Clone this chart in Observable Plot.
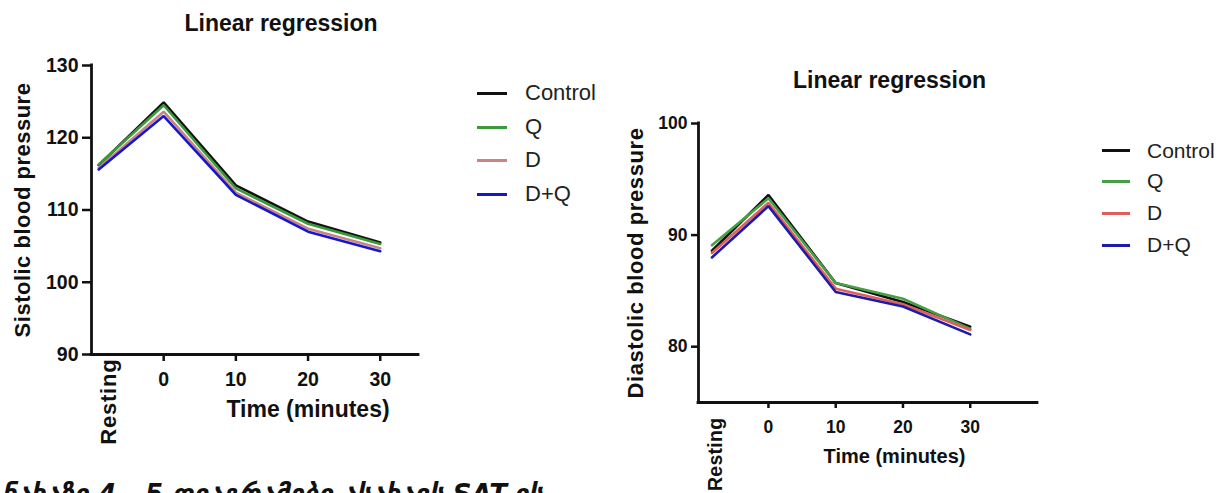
<!DOCTYPE html>
<html><head><meta charset="utf-8">
<script src="https://cdn.jsdelivr.net/npm/d3@7"></script>
<script src="https://cdn.jsdelivr.net/npm/@observablehq/plot@0.6"></script>
<style>
html,body{margin:0;padding:0;background:#fff;overflow:hidden;}
#root{position:relative;width:1220px;height:493px;overflow:hidden;font-family:"Liberation Sans",Arial,sans-serif;background:#fff;}
.plotbox{position:absolute;top:0;}
.title{position:absolute;font-weight:bold;font-size:23px;line-height:23px;white-space:nowrap;transform:translateX(-50%);color:#111;}
.leg{position:absolute;display:flex;align-items:center;white-space:nowrap;color:#222;}
.leg .sw{display:inline-block;height:3px;}
.caption{position:absolute;left:2px;font-family:"DejaVu Sans",sans-serif;font-weight:bold;font-style:italic;font-size:26px;line-height:26px;white-space:nowrap;color:#111;}
</style></head><body><div id="root"></div>
<script>
// ---- data ----
const groups = ["Control", "Q", "D", "D+Q"];
const timeLabels = ["Resting", "0", "10", "20", "30"];
const xTicks = [0, 10, 20, 30];
const sysTime = [-9, 0, 10, 20, 30];
const diaTime = [-8.4, 0, 10, 20, 30];

const sysControl = [116.2, 124.9, 113.4, 108.4, 105.5];
const sysQ       = [116.3, 124.5, 113.0, 108.1, 105.3];
const sysD       = [115.8, 123.6, 112.4, 107.4, 104.7];
const sysDQ      = [115.6, 123.0, 112.1, 107.0, 104.3];

const diaControl = [88.6, 93.6, 85.7, 84.0, 81.8];
const diaQ       = [89.1, 93.3, 85.7, 84.3, 81.6];
const diaD       = [88.4, 92.9, 85.2, 83.8, 81.5];
const diaDQ      = [88.0, 92.6, 84.9, 83.6, 81.1];

const sysTicks = [90, 100, 110, 120, 130];
const diaTicks = [80, 90, 100];

const leftColors = ["#111111", "#3a9a3a", "#c98585", "#1616cc"];
const rightColors = ["#111111", "#45a045", "#e05e5e", "#1c1ca8"];

const titleText = "Linear regression";
const sysLabel = "Sistolic blood pressure";
const diaLabel = "Diastolic blood pressure";
const timeLabel = "Time (minutes)";
const captionText = "ნახაზი 4 - 5 დიაგრამები ასახავს SAT-ის";

function rowsOf(times, series) {
  const rows = [];
  series.forEach((vals, gi) => vals.forEach((v, i) => rows.push({g: groups[gi], t: times[i], v, label: timeLabels[i]})));
  return rows;
}
const sysRows = rowsOf(sysTime, [sysControl, sysQ, sysD, sysDQ]);
const diaRows = rowsOf(diaTime, [diaControl, diaQ, diaD, diaDQ]);

function makeChart(o) {
  const svg = Plot.plot({
    width: o.width, height: o.height,
    marginTop: o.mt, marginBottom: o.mb, marginLeft: o.ml, marginRight: o.mr,
    style: {fontFamily: "Liberation Sans, Arial, sans-serif", fontWeight: "bold", fontSize: o.tickFont + "px", color: "#111", background: "transparent", overflow: "visible"},
    x: {domain: o.xDomain, axis: null},
    y: {domain: o.yDomain, axis: null},
    color: {domain: groups, range: o.colors},
    marks: [
      Plot.axisY({ticks: o.yTicks, tickSize: o.yTickSize, tickPadding: o.yTickPad, strokeWidth: 2.5, label: null, fontSize: o.tickFont}),
      Plot.axisX({ticks: xTicks, tickSize: o.xTickSize, tickPadding: o.xTickPad, strokeWidth: 2.5, label: null, fontSize: o.tickFont, tickFormat: d => String(d)}),
      Plot.ruleY([o.yDomain[0]], {stroke: "#111", strokeWidth: 2.8, strokeLinecap: "square"}),
      Plot.ruleX([o.xDomain[0]], {stroke: "#111", strokeWidth: 2.8, strokeLinecap: "square"}),
      Plot.line(o.rows, {x: "t", y: "v", z: "g", stroke: "g", strokeWidth: 2.6, strokeLinejoin: "miter"}),
      Plot.text([timeLabels[0]], {x: [o.restLabelX], y: [o.yDomain[0]], dy: o.restDy, rotate: -90, textAnchor: "end", lineAnchor: "middle", fontSize: o.restFont, fontWeight: "bold", fill: "#111"}),
      Plot.text([o.yLabel], {frameAnchor: "left", dx: o.yLabelDx, rotate: -90, lineAnchor: "middle", textAnchor: "middle", fontSize: o.yLabelFont, fontWeight: "bold", fill: "#111"}),
      Plot.text([timeLabel], {frameAnchor: "bottom", dx: o.xLabelDx, dy: o.xLabelDy, lineAnchor: "middle", textAnchor: "middle", fontSize: o.xLabelFont, fontWeight: "bold", fill: "#111"})
    ]
  });
  const sel = d3.select(svg);
  sel.selectAll('g[aria-label$="tick label"]').attr("font-size", o.tickFont).style("font-size", o.tickFont + "px");
  sel.selectAll('g[aria-label$="tick label"] text').style("font-size", o.tickFont + "px").style("font-weight", "bold");
  sel.selectAll("text").each(function() {
    const t = this.textContent;
    if (t === o.yLabel) d3.select(this).style("letter-spacing", o.yLabelSpacing + "px");
    if (t === timeLabels[0]) d3.select(this).style("letter-spacing", o.restSpacing + "px");
  });
  return svg;
}

const root = document.getElementById("root");

function addPlot(svg, left) {
  const box = document.createElement("div");
  box.className = "plotbox";
  box.style.left = left + "px";
  box.appendChild(svg);
  root.appendChild(box);
}

addPlot(makeChart({
  width: 460, height: 460, mt: 65, mb: 106, ml: 91, mr: 42,
  xDomain: [-10, 35.3], yDomain: [90, 130], yTicks: sysTicks,
  colors: leftColors, rows: sysRows,
  tickFont: 19.5, yTickSize: 9, yTickPad: 4, xTickSize: 7, xTickPad: 11,
  restLabelX: -7.6, restDy: 4, restFont: 22, restSpacing: 0.8,
  yLabel: sysLabel, yLabelDx: -69, yLabelFont: 22, yLabelSpacing: 0.5,
  xLabelDx: 53, xLabelDy: 55.5, xLabelFont: 23
}), 0);

addPlot(makeChart({
  width: 460, height: 493, mt: 123, mb: 91, ml: 98, mr: 23,
  xDomain: [-10.4, 40], yDomain: [75, 100], yTicks: diaTicks,
  colors: rightColors, rows: diaRows,
  tickFont: 17.5, yTickSize: 7, yTickPad: 4, xTickSize: 6, xTickPad: 12,
  restLabelX: -7.9, restDy: 15, restFont: 19.5, restSpacing: 0.3,
  yLabel: diaLabel, yLabelDx: -63, yLabelFont: 22, yLabelSpacing: 0.6,
  xLabelDx: 26.5, xLabelDy: 54, xLabelFont: 20
}), 600);

// titles
function addTitle(cx, top) {
  const d = document.createElement("div");
  d.className = "title";
  d.style.left = cx + "px";
  d.style.top = top + "px";
  d.textContent = titleText;
  root.appendChild(d);
}
addTitle(281, 11.5);
addTitle(889.5, 68.8);

// legends
function addLegend(colors, lineX, lineW, textX, ys, font) {
  groups.forEach((g, i) => {
    const row = document.createElement("div");
    row.className = "leg";
    row.style.left = lineX + "px";
    row.style.top = (ys[i] - 15) + "px";
    row.style.height = "30px";
    row.style.fontSize = font + "px";
    const sw = document.createElement("span");
    sw.className = "sw";
    sw.style.width = lineW + "px";
    sw.style.background = colors[i];
    sw.style.marginRight = (textX - lineX - lineW) + "px";
    const tx = document.createElement("span");
    tx.textContent = g;
    row.appendChild(sw);
    row.appendChild(tx);
    root.appendChild(row);
  });
}
addLegend(leftColors, 477, 30, 525, [93.3, 127.3, 160, 194], 22);
addLegend(rightColors, 1102, 28, 1147, [150.7, 181, 213.3, 245], 21);

// caption (cut off by the page edge, as in the reference)
const cap = document.createElement("div");
cap.className = "caption";
cap.style.top = "481px";
cap.textContent = captionText;
root.appendChild(cap);
</script>
</body></html>
